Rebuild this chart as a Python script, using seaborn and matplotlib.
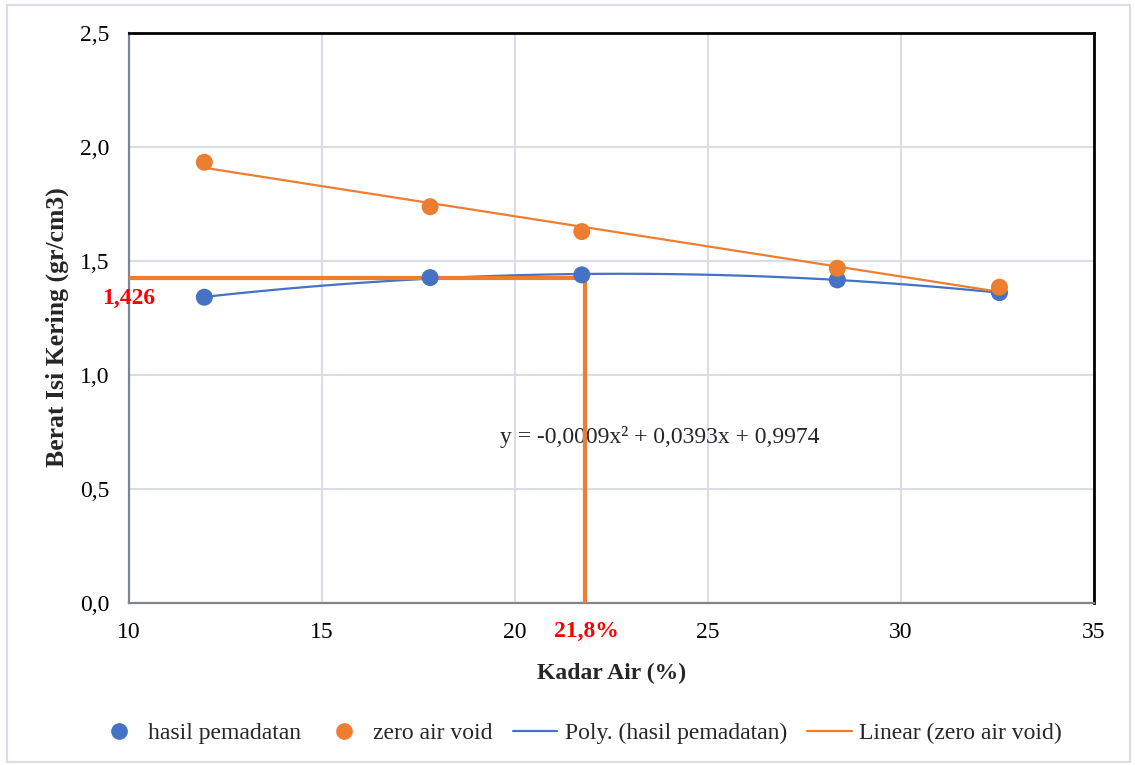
import matplotlib
matplotlib.use("Agg")
import matplotlib.pyplot as plt
from matplotlib.lines import Line2D
from matplotlib.patches import Rectangle
from matplotlib.ticker import FuncFormatter, MultipleLocator
import numpy as np
import pandas as pd
import seaborn as sns

# Compaction test results
kadar_air = [11.95, 17.8, 21.73, 28.35, 32.55]
hasil_pemadatan = [1.341, 1.427, 1.439, 1.417, 1.361]
zero_air_void = [1.933, 1.738, 1.629, 1.468, 1.385]

# Optimum values
w_opt = 21.8
gd_max = 1.426

equation = "y = -0,0009x² + 0,0393x + 0,9974"

BLUE = "#4472C4"
ORANGE = "#ED7D31"
GRID = "#D9DEE6"

sns.set_theme(style="white")
plt.rcParams["font.family"] = ["Liberation Serif", "DejaVu Serif"]

df = pd.DataFrame({"x": kadar_air, "hasil": hasil_pemadatan, "zav": zero_air_void})

fig = plt.figure(figsize=(11.35, 7.65), dpi=100)
ax = fig.add_axes([0.1137, 0.2118, 0.8502, 0.7451])

# Trendlines
sns.regplot(data=df, x="x", y="hasil", order=2, ci=None, scatter=False, ax=ax,
            line_kws=dict(color=BLUE, lw=1.6, zorder=3))
sns.regplot(data=df, x="x", y="zav", order=1, ci=None, scatter=False, ax=ax,
            line_kws=dict(color=ORANGE, lw=1.6, zorder=3))

# Optimum guide lines
ax.plot([10, w_opt], [gd_max, gd_max], color=ORANGE, lw=3, zorder=4, solid_capstyle="butt")
ax.plot([w_opt, w_opt], [0, gd_max], color=ORANGE, lw=3, zorder=4, solid_capstyle="butt")

# Data points
sns.scatterplot(data=df, x="x", y="hasil", ax=ax, color=BLUE, s=150, edgecolor="none", zorder=5)
sns.scatterplot(data=df, x="x", y="zav", ax=ax, color=ORANGE, s=150, edgecolor="none", zorder=6)

ax.set_xlim(10, 35)
ax.set_ylim(0, 2.5)
ax.xaxis.set_major_locator(MultipleLocator(5))
ax.yaxis.set_major_locator(MultipleLocator(0.5))
ax.xaxis.set_major_formatter(FuncFormatter(lambda v, p: f"{v:.0f}"))
ax.yaxis.set_major_formatter(FuncFormatter(lambda v, p: f"{v:.1f}".replace(".", ",")))
ax.grid(True, color=GRID, lw=1.5)
ax.set_axisbelow(True)
ax.tick_params(axis="both", labelsize=17, colors="black", length=0, pad=14)

for side in ("top", "right"):
    ax.spines[side].set_color("black")
    ax.spines[side].set_linewidth(2)
for side in ("left", "bottom"):
    ax.spines[side].set_color("#7F8590")
    ax.spines[side].set_linewidth(1.6)

ax.set_xlabel("Kadar Air (%)", fontsize=17, fontweight="bold", labelpad=14)
ax.set_ylabel("Berat Isi Kering (gr/cm3)", fontsize=18.5, fontweight="bold")
ax.yaxis.set_label_coords(-0.0625, 0.484)

ax.text(19.6, 0.73, equation, fontsize=17, ha="left", va="center")

# Optimum value labels
ax.text(9.3, gd_max - 0.09, "1,426", color="red", fontsize=17, fontweight="bold",
        ha="left", va="center", clip_on=False)
ax.text(w_opt + 0.05, -0.125, "21,8%", color="red", fontsize=17, fontweight="bold",
        ha="center", va="center", clip_on=False)

handles = [
    Line2D([], [], ls="none", marker="o", markersize=11, color=BLUE, label="hasil pemadatan"),
    Line2D([], [], ls="none", marker="o", markersize=11, color=ORANGE, label="zero air void"),
    Line2D([], [], color=BLUE, lw=1.6, label="Poly. (hasil pemadatan)"),
    Line2D([], [], color=ORANGE, lw=1.6, label="Linear (zero air void)"),
]
fig.legend(handles=handles, loc="center", bbox_to_anchor=(0.510, 0.041), ncol=4,
           frameon=False, fontsize=17, handlelength=1.9, handletextpad=0.3,
           columnspacing=0.85)

# Light frame around the chart
fig.patches.append(Rectangle((0.006, 0.004), 0.99, 0.99, transform=fig.transFigure,
                             fill=False, edgecolor="#D9DEE6", lw=1.5))

fig.savefig("out.png", dpi=100)
